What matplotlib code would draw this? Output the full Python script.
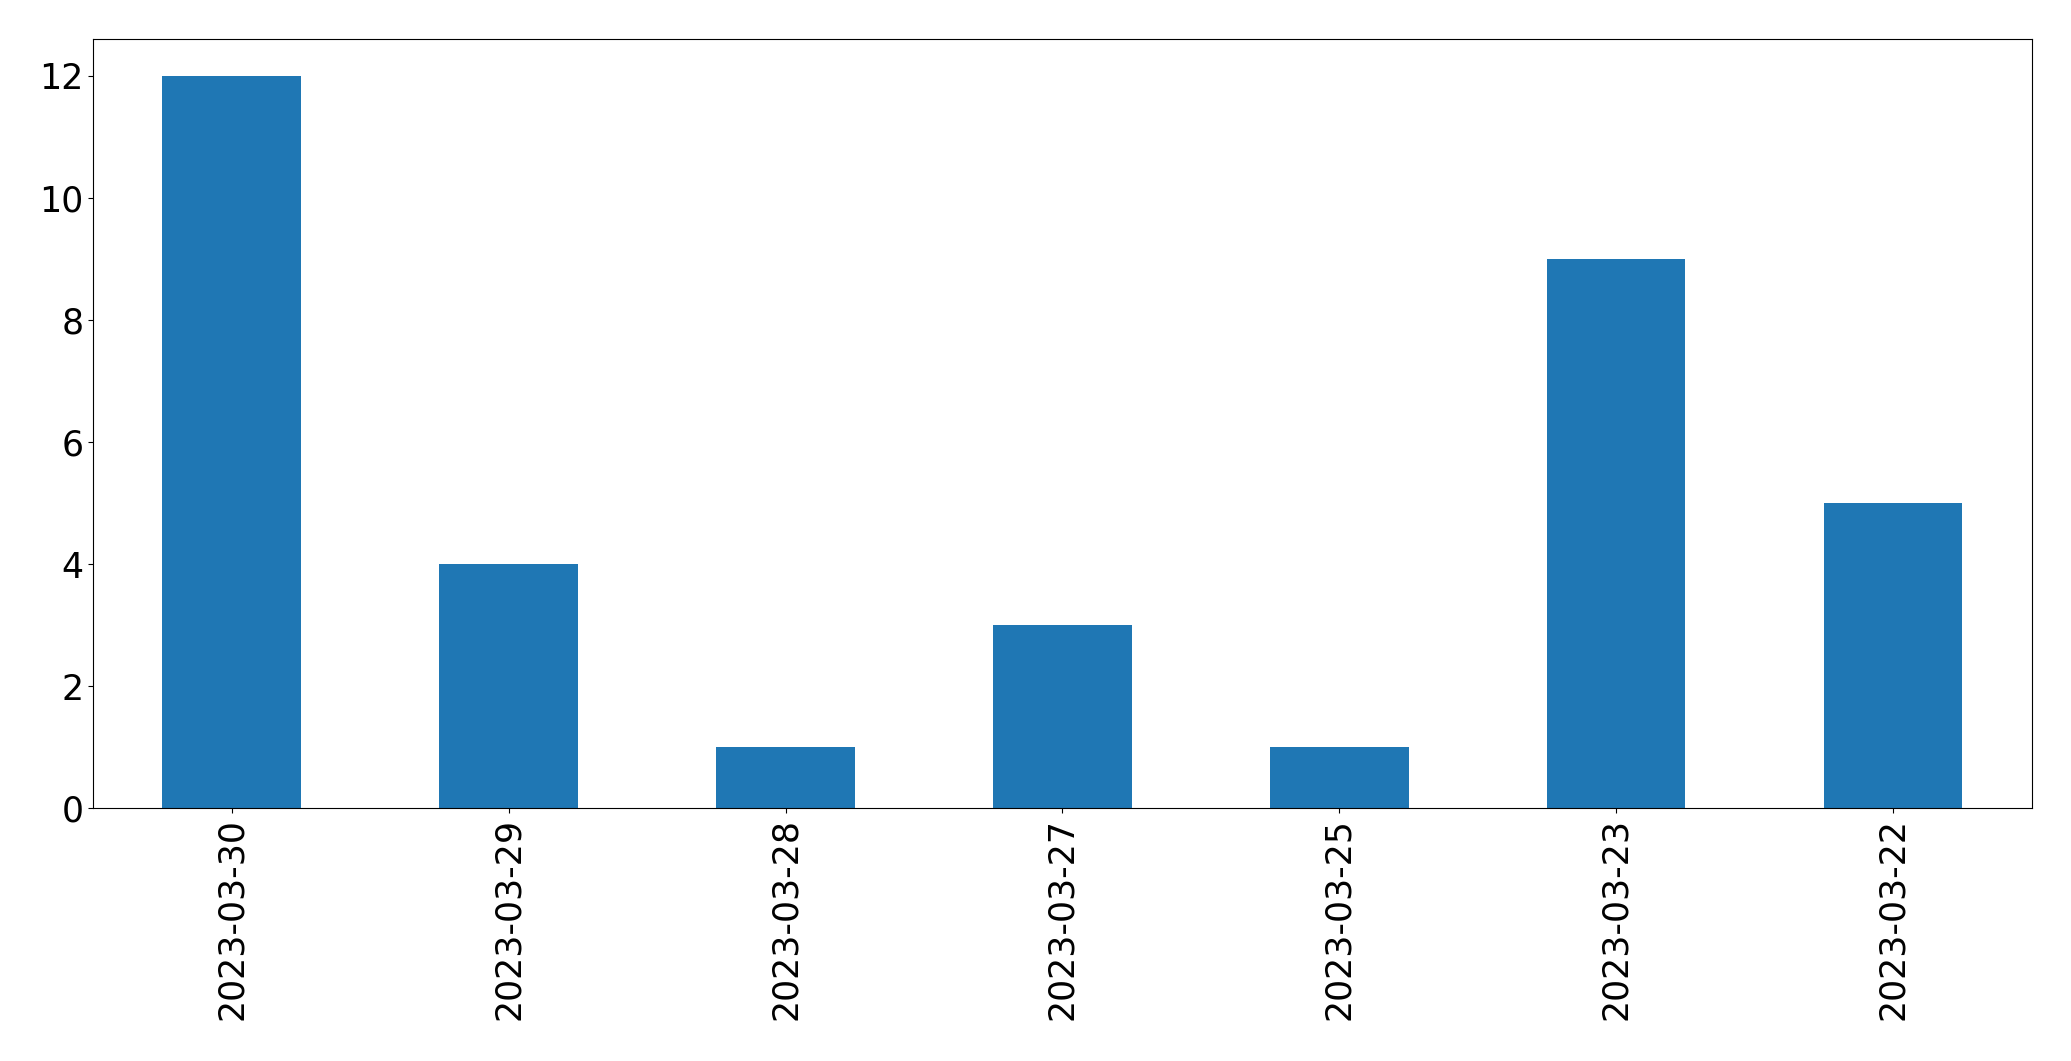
import pandas as pd
import matplotlib.pyplot as plt

# Data
dates = ["2023-03-30", "2023-03-29", "2023-03-28", "2023-03-27",
         "2023-03-25", "2023-03-23", "2023-03-22"]
counts = [12, 4, 1, 3, 1, 9, 5]

s = pd.Series(counts, index=dates)

fig = plt.figure(figsize=(20.71, 10.61), dpi=100)
ax = fig.add_axes([0.045, 0.238, 0.936, 0.725])

s.plot(kind="bar", ax=ax, color="#1f77b4", width=0.5)

ax.tick_params(axis="both", labelsize=25)
plt.xticks(rotation=90)

fig.savefig("out.png", dpi=100)
